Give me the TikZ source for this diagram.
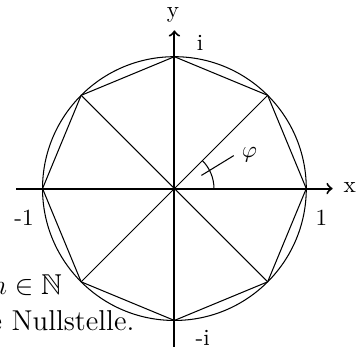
\documentclass[tikz,border=0pt]{standalone}
\usepackage{amssymb}
\begin{document}
\begin{tikzpicture}[
  axis/.style={line width=0.85pt,->},
  thinline/.style={line width=0.45pt},
  lbl/.style={inner sep=0pt,font=\fontsize{10}{12}\selectfont},
  bodytext/.style={inner sep=0pt,anchor=base east,font=\fontsize{12.4}{15}\selectfont}
]
\useasboundingbox (-2.645,-2.40) rectangle (2.86,2.86);
\clip (-2.645,-2.40) rectangle (2.86,2.86);
% circle
\node[draw,circle,thinline,minimum size=4cm,inner sep=0pt] (c) at (0,0) {};
% vertices
\foreach \k in {0,...,7} {\coordinate (v\k) at (\k*45:2);}
\coordinate (o) at (0,0);
\draw[thinline] (v0)--(v1)--(v2)--(v3)--(v4)--(v5)--(v6)--(v7)--cycle;
\draw[thinline] (v1)--(v5) (v3)--(v7);
% axes
\coordinate (xs) at (-2.4,0); \coordinate (xe) at (2.4,0);
\coordinate (ys) at (0,-2.45); \coordinate (ye) at (0,2.4);
\draw[axis] (xs)--(xe);
\draw[axis] (ys)--(ye);
% angle
\draw[thinline] (0.6,0) arc[start angle=0,end angle=45,radius=0.6];
\node[lbl] (phi) at (1.14,0.52) {$\varphi$};
\coordinate (pa) at (0.41,0.20);
\coordinate (pb) at (0.90,0.50);
\draw[thinline] (pa)--(pb);
% labels
\node[lbl] (ly) at (-0.02,2.63) {y};
\node[lbl] (lx) at (2.66,0.02) {x};
\node[lbl] (li) at (0.39,2.21) {i};
\node[lbl] (lmi) at (0.43,-2.27) {-i};
\node[lbl] (l1) at (2.23,-0.44) {1};
\node[lbl] (lm1) at (-2.28,-0.45) {-1};
% cut-off text
\node[bodytext] (t1) at (-1.70,-1.61) {$n\in\mathbb{N}$};
\node[bodytext] (t2) at (-0.60,-2.15) {e Nullstelle.};
\end{tikzpicture}
\end{document}
